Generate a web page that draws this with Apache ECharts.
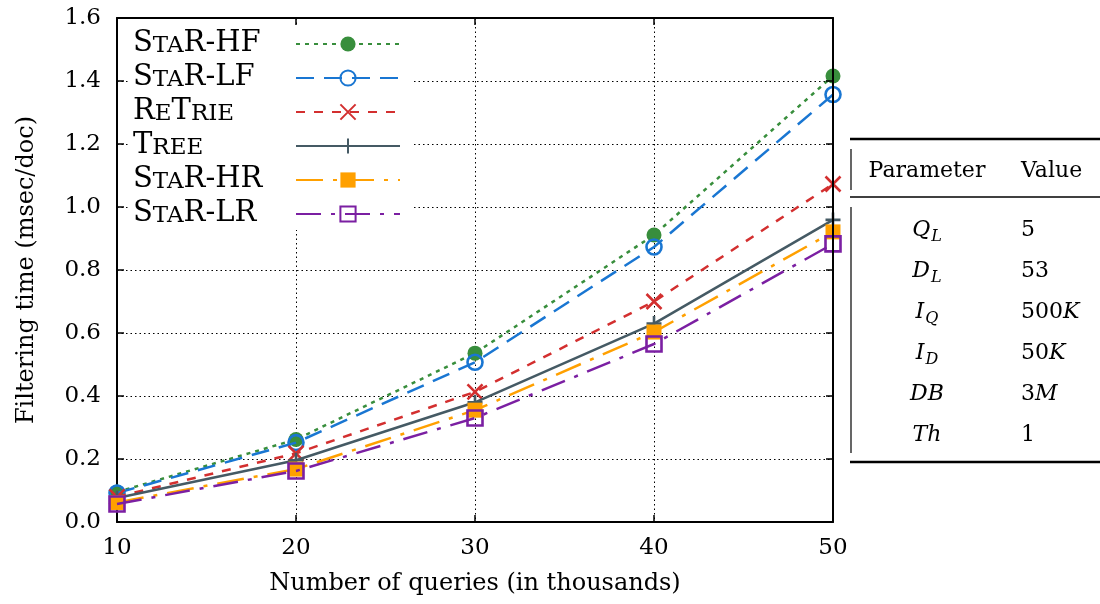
<!DOCTYPE html>
<html>
<head>
<meta charset="utf-8">
<script src="https://cdn.jsdelivr.net/npm/echarts@6/dist/echarts.min.js"></script>
<style>
  html, body { margin: 0; padding: 0; background: #fff; }
  #chart { width: 1100px; height: 604px; }
</style>
</head>
<body>
<div id="chart"></div>
<script>
// Filtering time per document vs. number of subscribed queries
const queries = [10, 20, 30, 40, 50];            // thousands of queries
const seriesNames = ['StaR-HF', 'StaR-LF', 'ReTrie', 'Tree', 'StaR-HR', 'StaR-LR'];
const starHF  = [0.095, 0.262, 0.536, 0.911, 1.416];
const starLF  = [0.092, 0.252, 0.507, 0.873, 1.357];
const reTrie  = [0.080, 0.218, 0.413, 0.700, 1.073];
const tree    = [0.076, 0.196, 0.380, 0.630, 0.959];
const starHR  = [0.062, 0.168, 0.355, 0.603, 0.921];
const starLR  = [0.057, 0.162, 0.330, 0.565, 0.883];
const yMin = 0, yMax = 1.6, yStep = 0.2;
const xMin = 10, xMax = 50, xStep = 10;

// Experiment parameters shown beside the plot
const paramSymbols    = ['Q', 'D', 'I', 'I', 'DB', 'Th'];
const paramSubscripts = ['L', 'L', 'Q', 'D', '', ''];
const paramValues     = ['5', '53', '500K', '50K', '3M', '1'];

const FONT = 'DejaVu Serif';
const seriesValues = [starHF, starLF, reTrie, tree, starHR, starLR];

const styles = [
  { color: '#388E3C', dash: [4, 5],          symbol: 'circle', size: 15, fill: true },
  { color: '#1976D2', dash: [18, 10],        symbol: 'circle', size: 15, fill: false },
  { color: '#D32F2F', dash: [9, 9],          symbol: 'path://M0,0L10,10M10,0L0,10', size: 15, fill: false },
  { color: '#455A64', dash: 'solid',         symbol: 'path://M5,0L5,10M0,5L10,5', size: 15, fill: false },
  { color: '#FFA000', dash: [27, 10, 4, 10], symbol: 'rect', size: 15, fill: true },
  { color: '#7B1FA2', dash: [25, 10, 4, 10], symbol: 'rect', size: 15, fill: false }
];

// lower-case runs become small capitals
function smallCaps(name) {
  return name.replace(/([a-z]+)|([^a-z]+)/g, (m, low, up) =>
    low ? '{s|' + low.toUpperCase() + '}' : '{b|' + up + '}');
}

const series = seriesNames.map((name, i) => {
  const st = styles[i];
  return {
    name: name,
    type: 'line',
    data: queries.map((q, k) => [q, seriesValues[i][k]]),
    symbol: st.symbol,
    symbolSize: st.size,
    clip: false,
    lineStyle: { color: st.color, width: 2.5, type: st.dash },
    itemStyle: {
      color: st.fill ? st.color : 'rgba(0,0,0,0)',
      borderColor: st.color,
      borderWidth: st.fill ? 0 : 2.6
    },
    emphasis: { disabled: true },
    z: 2 + i
  };
});

// parameter table
const TX = 927, VX = 1021;
const rowY = [230, 271, 312, 353, 394, 435];
const MAIN_FONT = 'italic 22px "DejaVu Serif"';
const SUB_FONT = 'italic 16px "DejaVu Serif"';
const measureCtx = document.createElement('canvas').getContext('2d');
function textWidth(t, font) { measureCtx.font = font; return measureCtx.measureText(t).width; }

const valueRich = {
  m: { fontFamily: FONT, fontSize: 22, fontStyle: 'italic', color: '#000' },
  r: { fontFamily: FONT, fontSize: 22, color: '#000' }
};
function valueText(v) {
  return v.replace(/([0-9]+)|([A-Za-z]+)/g, (m, d, a) => d ? '{r|' + d + '}' : '{m|' + a + '}');
}
const graphics = [
  { type: 'line', shape: { x1: 850, y1: 139, x2: 1100, y2: 139 }, style: { stroke: '#000', lineWidth: 2.5 } },
  { type: 'line', shape: { x1: 850, y1: 197, x2: 1100, y2: 197 }, style: { stroke: '#000', lineWidth: 1.5 } },
  { type: 'line', shape: { x1: 850, y1: 462, x2: 1100, y2: 462 }, style: { stroke: '#000', lineWidth: 2.5 } },
  { type: 'line', shape: { x1: 851, y1: 149, x2: 851, y2: 190 }, style: { stroke: '#000', lineWidth: 1.2 } },
  { type: 'line', shape: { x1: 851, y1: 207, x2: 851, y2: 453 }, style: { stroke: '#000', lineWidth: 1.2 } },
  { type: 'text', x: TX, y: 171, style: { text: 'Parameter', font: '22px "DejaVu Serif"', fill: '#000', align: 'center', verticalAlign: 'middle' } },
  { type: 'text', x: VX, y: 171, style: { text: 'Value', font: '22px "DejaVu Serif"', fill: '#000', align: 'left', verticalAlign: 'middle' } }
];
paramSymbols.forEach((s, i) => {
  const sub = paramSubscripts[i];
  const wm = textWidth(s, MAIN_FONT);
  const ws = sub ? textWidth(sub, SUB_FONT) + 1 : 0;
  const joint = TX + (wm - ws) / 2;
  graphics.push({ type: 'text', x: joint, y: rowY[i],
    style: { text: s, font: MAIN_FONT, fill: '#000', align: 'right', verticalAlign: 'middle' } });
  if (sub) {
    graphics.push({ type: 'text', x: joint + 1, y: rowY[i] + 7,
      style: { text: sub, font: SUB_FONT, fill: '#000', align: 'left', verticalAlign: 'middle' } });
  }
  graphics.push({ type: 'text', x: VX, y: rowY[i],
    style: { text: valueText(paramValues[i]), rich: valueRich, align: 'left', verticalAlign: 'middle' } });
});

const axisLine = { show: true, onZero: false, lineStyle: { color: '#000', width: 2 } };
const axisTick = { show: true, inside: true, length: 7, lineStyle: { color: '#000', width: 1.5 } };
const gridLine = { show: true, lineStyle: { color: '#000', width: 1, type: [1.5, 3] } };
const tickFont = { fontFamily: FONT, fontSize: 23, color: '#000' };

const option = {
  animation: false,
  backgroundColor: '#fff',
  grid: { left: 117, right: 267, top: 18, bottom: 82, containLabel: false },
  legend: {
    data: seriesNames,
    orient: 'vertical',
    left: 128, top: 26,
    padding: [3, 12, 2, 5],
    backgroundColor: '#fff',
    align: 'right',
    itemWidth: 104, itemHeight: 19, itemGap: 5,
    selectedMode: false,
    formatter: smallCaps,
    textStyle: {
      width: 158,
      lineHeight: 28,
      rich: {
        b: { fontFamily: FONT, fontSize: 29, lineHeight: 28, verticalAlign: 'bottom', align: 'left', color: '#000' },
        s: { fontFamily: FONT, fontSize: 23, lineHeight: 24, verticalAlign: 'bottom', align: 'left', color: '#000' }
      }
    },
    z: 10
  },
  xAxis: [{
    type: 'value', min: xMin, max: xMax, interval: xStep, position: 'bottom',
    axisLine: axisLine, axisTick: axisTick, splitLine: gridLine,
    axisLabel: Object.assign({ margin: 15 }, tickFont),
    name: 'Number of queries (in thousands)',
    nameLocation: 'middle', nameGap: 50,
    nameTextStyle: { fontFamily: FONT, fontSize: 24, color: '#000' }
  }, {
    type: 'value', min: xMin, max: xMax, interval: xStep, position: 'top',
    axisLine: axisLine, axisTick: axisTick, splitLine: { show: false }, axisLabel: { show: false }, z: 8
  }],
  yAxis: [{
    type: 'value', min: yMin, max: yMax, interval: yStep, position: 'left',
    axisLine: axisLine, axisTick: axisTick, splitLine: gridLine,
    axisLabel: Object.assign({ margin: 16, formatter: v => v.toFixed(1) }, tickFont),
    name: 'Filtering time (msec/doc)',
    nameLocation: 'middle', nameGap: 78,
    nameTextStyle: { fontFamily: FONT, fontSize: 24, color: '#000' }
  }, {
    type: 'value', min: yMin, max: yMax, interval: yStep, position: 'right',
    axisLine: axisLine, axisTick: axisTick, splitLine: { show: false }, axisLabel: { show: false }, z: 8
  }],
  series: series,
  graphic: graphics
};

const chart = echarts.init(document.getElementById('chart'), null, { renderer: 'canvas' });
chart.setOption(option);
</script>
</body>
</html>
